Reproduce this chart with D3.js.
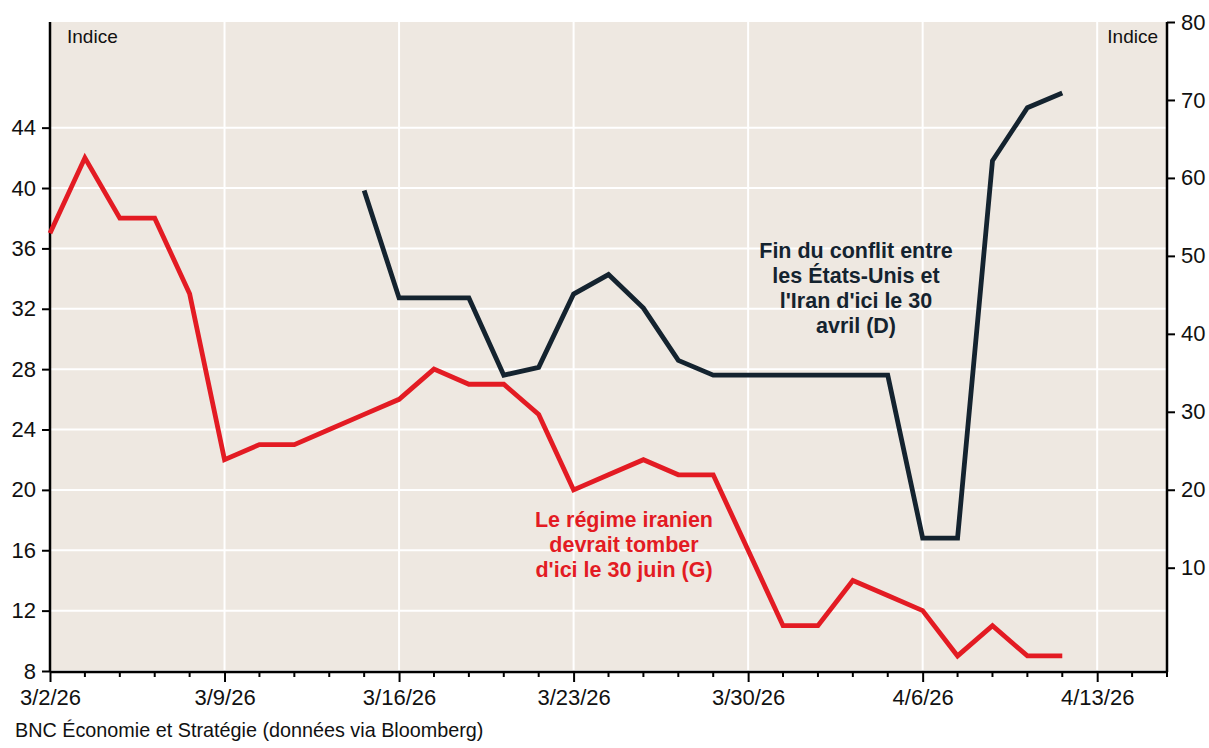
<!DOCTYPE html>
<html>
<head>
<meta charset="utf-8">
<script src="https://cdn.jsdelivr.net/npm/d3@7"></script>
<style>
  body { margin: 0; background: #fff; }
  svg { display: block; font-family: "Liberation Sans", Arial, sans-serif; }
</style>
</head>
<body>
<svg id="chart" width="1209" height="748"></svg>
<script>
// business days shown on the axis (3/2/26 .. 4/15/26)
const dates = [
  '3/2/26', '3/3/26', '3/4/26', '3/5/26', '3/6/26',
  '3/9/26', '3/10/26', '3/11/26', '3/12/26', '3/13/26',
  '3/16/26', '3/17/26', '3/18/26', '3/19/26', '3/20/26',
  '3/23/26', '3/24/26', '3/25/26', '3/26/26', '3/27/26',
  '3/30/26', '3/31/26', '4/1/26', '4/2/26', '4/3/26',
  '4/6/26', '4/7/26', '4/8/26', '4/9/26', '4/10/26',
  '4/13/26', '4/14/26', '4/15/26'
]
const tickLabels = ['3/2/26', '3/9/26', '3/16/26', '3/23/26', '3/30/26', '4/6/26', '4/13/26']

// Le régime iranien devrait tomber d'ici le 30 juin (G) - 3/2 .. 4/10
const regime = [37, 42, 38, 38, 33, 22, 23, 23, 24, 25, 26, 28, 27, 27, 25,
  20, 21, 22, 21, 21, 16, 11, 11, 14, 13, 12, 9, 11, 9, 9]

// Fin du conflit d'ici le 30 avril (D) - 3/13 .. 4/10
const conflitDates = ['3/13/26', '3/16/26', '3/17/26', '3/18/26', '3/19/26', '3/20/26',
  '3/23/26', '3/24/26', '3/25/26', '3/26/26', '3/27/26', '3/30/26', '3/31/26', '4/1/26',
  '4/2/26', '4/3/26', '4/6/26', '4/7/26', '4/8/26', '4/9/26', '4/10/26']
const conflit = [58.4, 44.6, 44.6, 44.6, 34.7, 35.7, 45.1, 47.6, 43.3, 36.6, 34.7,
  34.7, 34.7, 34.7, 34.7, 34.7, 13.8, 13.8, 62.2, 69.0, 70.9]

const leftTicks = [8, 12, 16, 20, 24, 28, 32, 36, 40, 44]
const rightTicks = [10, 20, 30, 40, 50, 60, 70, 80]

const RED = '#e31b23'
const NAVY = '#14232f'
const BG = '#eee8e1'

const svg = d3.select('#chart')
const m = { left: 50, right: 1167, top: 22, bottom: 671 }

const x = d3.scalePoint().domain(dates).range([m.left, m.right])
const yL = d3.scaleLinear().domain([8, 51]).range([m.bottom, m.top])
const yR = d3.scaleLinear().domain([-3.25, 80]).range([m.bottom, m.top])

svg.append('rect')
  .attr('x', m.left).attr('y', m.top)
  .attr('width', m.right - m.left).attr('height', m.bottom - m.top)
  .attr('fill', BG)

// grid
svg.append('g').selectAll('line').data(leftTicks).join('line')
  .attr('x1', m.left).attr('x2', m.right)
  .attr('y1', d => yL(d)).attr('y2', d => yL(d))
  .attr('stroke', '#fff').attr('stroke-width', 2)
svg.append('g').selectAll('line').data(tickLabels.slice(1)).join('line')
  .attr('x1', d => x(d)).attr('x2', d => x(d))
  .attr('y1', m.top).attr('y2', m.bottom)
  .attr('stroke', '#fff').attr('stroke-width', 2)

// axes
const axL = svg.append('g').attr('transform', `translate(${m.left},0)`)
  .call(d3.axisLeft(yL).tickValues(leftTicks).tickSize(8).tickPadding(6))
const axR = svg.append('g').attr('transform', `translate(${m.right},0)`)
  .call(d3.axisRight(yR).tickValues(rightTicks).tickSize(8).tickPadding(6))
const axB = svg.append('g').attr('transform', `translate(0,${m.bottom + 1})`)
  .call(d3.axisBottom(x).tickValues(tickLabels).tickSize(10).tickPadding(7))
// minor ticks, one per business day
axB.selectAll('.minor').data(dates.filter(d => !tickLabels.includes(d))).join('line')
  .attr('class', 'minor')
  .attr('x1', d => x(d)).attr('x2', d => x(d))
  .attr('y1', 0).attr('y2', 5)
  .attr('stroke', '#000').attr('stroke-width', 2)

for (const ax of [axL, axR, axB]) {
  ax.select('.domain').attr('stroke', '#000').attr('stroke-width', 2.5)
  ax.selectAll('.tick line').attr('stroke', '#000').attr('stroke-width', 2)
  ax.selectAll('.tick text').attr('fill', '#111')
    .style('font-size', '22px').style('font-family', '"Liberation Sans", Arial, sans-serif')
}
axL.select('.domain').attr('d', `M0,${m.top}V${m.bottom + 1}`)
axR.select('.domain').attr('d', `M0,${m.top}V${m.bottom + 1}`)
axB.select('.domain').attr('d', `M${m.left},0H${m.right}`)

// lines
svg.append('path')
  .datum(regime.map((v, i) => [dates[i], v]))
  .attr('fill', 'none').attr('stroke', RED).attr('stroke-width', 4.8)
  .attr('stroke-linejoin', 'miter')
  .attr('d', d3.line().x(d => x(d[0])).y(d => yL(d[1])))

svg.append('path')
  .datum(conflit.map((v, i) => [conflitDates[i], v]))
  .attr('fill', 'none').attr('stroke', NAVY).attr('stroke-width', 4.8)
  .attr('stroke-linejoin', 'miter')
  .attr('d', d3.line().x(d => x(d[0])).y(d => yR(d[1])))

// labels
svg.append('text').attr('x', 67).attr('y', 43)
  .style('font-size', '19px').attr('fill', '#111').text('Indice')
svg.append('text').attr('x', 1158).attr('y', 43).attr('text-anchor', 'end')
  .style('font-size', '19px').attr('fill', '#111').text('Indice')

function block (lines, cx, y0, color) {
  const t = svg.append('text').attr('text-anchor', 'middle')
    .style('font-size', '21.5px').style('font-weight', 'bold').attr('fill', color)
  lines.forEach((s, i) => t.append('tspan').attr('x', cx).attr('y', y0 + i * 25).text(s))
}
block(['Fin du conflit entre', 'les États-Unis et', "l'Iran d'ici le 30", 'avril (D)'], 856, 258, NAVY)
block(['Le régime iranien', 'devrait tomber', "d'ici le 30 juin (G)"], 624, 527, RED)

svg.append('text').attr('x', 15).attr('y', 737)
  .style('font-size', '19.8px').attr('fill', '#111')
  .text('BNC Économie et Stratégie (données via Bloomberg)')
</script>
</body>
</html>
